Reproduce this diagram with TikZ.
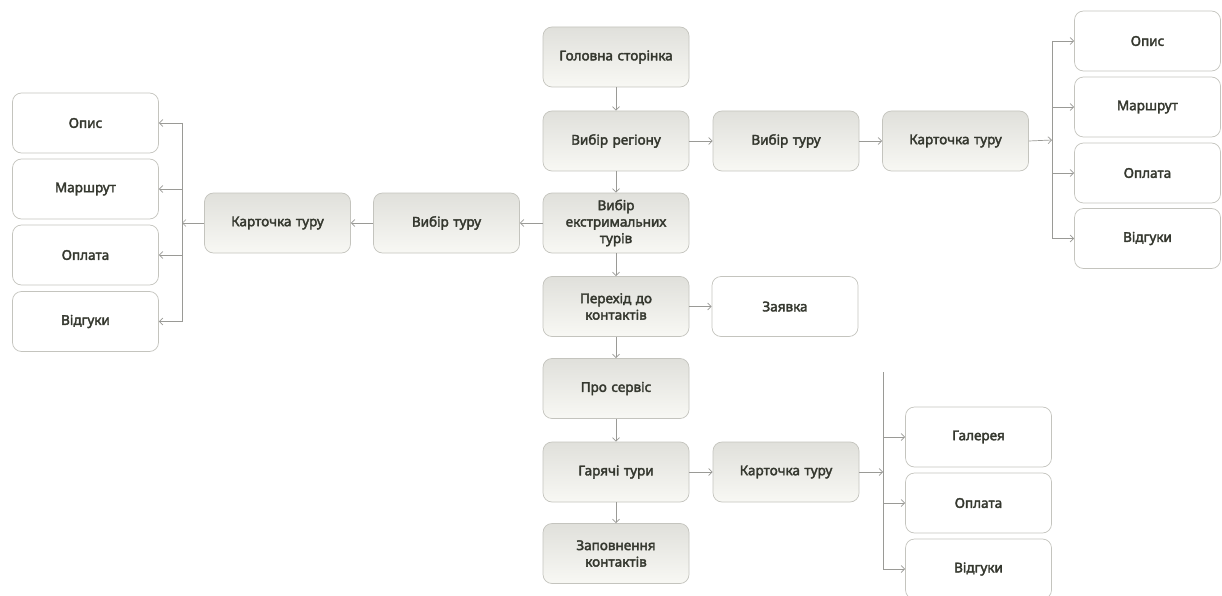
\documentclass[tikz,border=0pt]{standalone}
\usepackage{fontspec}
\setmainfont{Noto Sans}[FakeBold=2.6]
\usetikzlibrary{arrows.meta}
\definecolor{txt}{HTML}{35382F}
\definecolor{edge}{HTML}{9A9A96}
\definecolor{bord}{HTML}{C4C4BE}
\definecolor{shtop}{HTML}{E0E0DB}
\definecolor{shbot}{HTML}{F8F8F4}
\tikzset{
  base/.style={rounded corners=9pt, minimum width=146pt, minimum height=60pt, inner sep=0pt,
    align=center, text width=136pt, text=txt, font=\fontsize{13.5}{16.5}\selectfont},
  grey/.style={base, draw=bord, line width=0.7pt, top color=shtop, bottom color=shbot},
  plain/.style={base, draw=bord, line width=0.7pt, fill=white},
  conn/.style={draw=edge, line width=0.7pt, -{Straight Barb[length=3.5pt,width=7pt]}},
  ln/.style={draw=edge, line width=0.7pt}
}
\begin{document}
\begin{tikzpicture}[x=1pt,y=-1pt]
\useasboundingbox (0,0) rectangle (1222,596);
\fill[white] (0,0) rectangle (1222,596);
% main column
\node[grey] (home) at (616,57) {Головна сторінка};
\node[grey] (reg) at (616,141) {Вибір регіону};
\node[grey] (ext) at (616,223) {Вибір\\екстримальних\\турів};
\node[grey] (cont) at (616,306.5) {Перехід до\\контактів};
\node[grey] (about) at (616,388.5) {Про сервіс};
\node[grey] (hot) at (616,472) {Гарячі тури};
\node[grey] (fill) at (616,553.5) {Заповнення\\контактів};
% right top branch
\node[grey] (tourR) at (786,141) {Вибір туру};
\node[grey] (cardR) at (955.5,141) {Карточка туру};
\node[plain] (r1) at (1147.5,41) {Опис};
\node[plain] (r2) at (1147.5,107) {Маршрут};
\node[plain] (r3) at (1147.5,173) {Оплата};
\node[plain] (r4) at (1147.5,238.5) {Відгуки};
% left branch
\node[grey] (tourL) at (446.5,223) {Вибір туру};
\node[grey] (cardL) at (277.5,223) {Карточка туру};
\node[plain] (l1) at (85.5,123) {Опис};
\node[plain] (l2) at (85.5,189) {Маршрут};
\node[plain] (l3) at (85.5,255) {Оплата};
\node[plain] (l4) at (85.5,321.5) {Відгуки};
% contacts
\node[plain] (req) at (785,306.5) {Заявка};
% bottom branch
\node[grey] (cardB) at (786,472) {Карточка туру};
\node[plain] (b1) at (978.5,437) {Галерея};
\node[plain] (b2) at (978.5,503) {Оплата};
\node[plain] (b3) at (978.5,569) {Відгуки};
% fork coordinates
\coordinate (fR) at (1052,140);
\coordinate (fRt) at (1052,41);
\coordinate (fRb) at (1052,238.5);
\coordinate (fL) at (182,223);
\coordinate (fLt) at (182,123);
\coordinate (fLb) at (182,321.5);
\coordinate (fB) at (883,472);
\coordinate (fBt) at (883,372);
\coordinate (fBb) at (883,569);
% main column connectors
\draw[conn] (home) -- (reg);
\draw[conn] (reg) -- (ext);
\draw[conn] (ext) -- (cont);
\draw[conn] (cont) -- (about);
\draw[conn] (about) -- (hot);
\draw[conn] (hot) -- (fill);
% right
\draw[conn] (reg) -- (tourR);
\draw[conn] (tourR) -- (cardR);
\draw[conn] (cardR.east) -- (fR);
\draw[ln] (fRt) -- (fRb);
\draw[conn] (fRt) -- (r1.west);
\draw[conn] (fR |- r2) -- (r2.west);
\draw[conn] (fR |- r3) -- (r3.west);
\draw[conn] (fRb) -- (r4.west);
% left
\draw[conn] (ext) -- (tourL);
\draw[conn] (tourL) -- (cardL);
\draw[conn] (cardL.west) -- (fL);
\draw[ln] (fLt) -- (fLb);
\draw[conn] (fLt) -- (l1.east);
\draw[conn] (fL |- l2) -- (l2.east);
\draw[conn] (fL |- l3) -- (l3.east);
\draw[conn] (fLb) -- (l4.east);
% contacts
\draw[conn] (cont) -- (req);
% bottom
\draw[conn] (hot) -- (cardB);
\draw[conn] (cardB.east) -- (fB);
\draw[ln] (fBt) -- (fBb);
\draw[conn] (fB |- b1) -- (b1.west);
\draw[conn] (fB |- b2) -- (b2.west);
\draw[conn] (fBb) -- (b3.west);
\end{tikzpicture}
\end{document}
